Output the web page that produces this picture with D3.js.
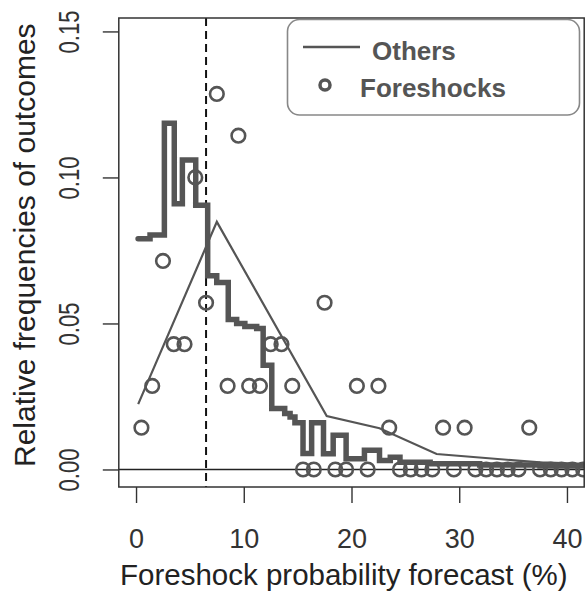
<!DOCTYPE html>
<html>
<head>
<meta charset="utf-8">
<script src="https://cdn.jsdelivr.net/npm/d3@7"></script>
<style>
body { margin: 0; background: #fff; }
text { font-family: "Liberation Sans", Arial, sans-serif; }
</style>
</head>
<body>
<div id="chart"></div>
<script>
// thick step line (all forecasts)
var stepX = [0.19, 1.3, 2.63, 3.55, 4.3, 5.54, 6.65, 7.49, 8.56, 9.34, 10.1, 11.2, 11.8, 12.6,
    13.8, 14.3, 14.75, 15.5, 16.3, 17.4, 18.3, 19.5, 21.2, 22.6, 23.6, 24.5, 27.3, 31.9, 37.5, 42];
var stepY = [0.079, 0.0803, 0.1186, 0.091, 0.106, 0.0905, 0.0663, 0.064, 0.0514, 0.05, 0.049, 0.0483, 0.0357, 0.0209,
    0.0192, 0.018, 0.016, 0.0055, 0.016, 0.0054, 0.0117, 0.0037, 0.0066, 0.0031, 0.0042, 0.0025, 0.002, 0.0015, 0.0012, 0.0012];

// thin line "Others"
var othersX = [0.2, 7.5, 17.7, 22.6, 27.9, 37.5, 42];
var othersY = [0.0224, 0.0848, 0.0183, 0.0141, 0.0053, 0.0024, 0.0019];

// circles "Foreshocks"
var foreX = [0.5, 1.5, 2.5, 3.5, 4.5, 5.5, 6.5, 7.5, 8.5, 9.5, 10.5, 11.5, 12.5, 13.5, 14.5, 15.5, 16.5, 17.5, 18.5, 19.5,
    20.5, 21.5, 22.5, 23.5, 24.5, 25.5, 26.5, 27.5, 28.5, 29.5, 30.5, 31.5, 32.5, 33.5, 34.5, 35.5, 36.5, 37.5, 38.5, 39.5, 40.5, 41.5];
var foreY = [0.0143, 0.0286, 0.0714, 0.0429, 0.0429, 0.1, 0.0571, 0.1286, 0.0286, 0.1143, 0.0286, 0.0286, 0.0429, 0.0429, 0.0286, 0, 0, 0.0571, 0, 0,
    0.0286, 0, 0.0286, 0.0143, 0, 0, 0, 0, 0.0143, 0, 0.0143, 0, 0, 0, 0, 0, 0.0143, 0, 0, 0, 0, 0];

var threshold = 6.5;
var xTicks = [0, 10, 20, 30, 40];
var yTicks = [0, 0.05, 0.10, 0.15];
var legendLabels = ["Others", "Foreshocks"];

var plotLeft = 118.8, plotRight = 584.2, plotTop = 18, plotBottom = 487;
var grey = "#555";

var svg = d3.select("#chart")
    .append("svg")
    .attr("width", 588)
    .attr("height", 591);

var x = d3.scaleLinear().domain([-1.6, 41.6]).range([plotLeft, plotRight]);
var y = d3.scaleLinear().domain([-0.006, 0.1546]).range([plotBottom, plotTop]);

svg.append("clipPath")
    .attr("id", "clip")
    .append("rect")
    .attr("x", plotLeft)
    .attr("y", plotTop)
    .attr("width", plotRight - plotLeft)
    .attr("height", plotBottom - plotTop);

var plot = svg.append("g").attr("clip-path", "url(#clip)");

// zero line
plot.append("line")
    .attr("x1", plotLeft).attr("x2", plotRight)
    .attr("y1", y(0)).attr("y2", y(0))
    .attr("stroke", "#222")
    .attr("stroke-width", 1.3);

// threshold
plot.append("line")
    .attr("x1", x(threshold)).attr("x2", x(threshold))
    .attr("y1", plotTop).attr("y2", plotBottom)
    .attr("stroke", "#111")
    .attr("stroke-width", 2)
    .attr("stroke-dasharray", "8,5");

var stepLine = d3.line()
    .x(function(d, i){return x(stepX[i])})
    .y(function(d){return y(d)})
    .curve(d3.curveStepAfter);

plot.append("path")
    .attr("d", stepLine(stepY))
    .attr("fill", "none")
    .attr("stroke", grey)
    .attr("stroke-width", 5.5)
    .attr("stroke-linejoin", "miter")
    .attr("stroke-linecap", "round");

var othersLine = d3.line()
    .x(function(d, i){return x(othersX[i])})
    .y(function(d){return y(d)});

plot.append("path")
    .attr("d", othersLine(othersY))
    .attr("fill", "none")
    .attr("stroke", grey)
    .attr("stroke-width", 2.2);

plot.selectAll("circle.fore")
    .data(foreY)
    .enter()
    .append("circle")
    .attr("class", "fore")
    .attr("cx", function(d, i){return x(foreX[i])})
    .attr("cy", function(d){return y(d)})
    .attr("r", 6.8)
    .attr("fill", "none")
    .attr("stroke", grey)
    .attr("stroke-width", 2.6);

// box
svg.append("rect")
    .attr("x", plotLeft).attr("y", plotTop)
    .attr("width", plotRight - plotLeft).attr("height", plotBottom - plotTop)
    .attr("fill", "none")
    .attr("stroke", "#333")
    .attr("stroke-width", 1.5);

// axes
var xAxis = svg.append("g")
    .attr("transform", "translate(0," + plotBottom + ")")
    .call(d3.axisBottom(x).tickValues(xTicks).tickSize(16).tickSizeOuter(0));
xAxis.select(".domain").remove();
xAxis.selectAll("line").attr("stroke", "#333").attr("stroke-width", 1.4);
xAxis.selectAll("text")
    .attr("y", 61).attr("dy", 0)
    .attr("fill", "#333")
    .style("font-size", "27px");

var yAxis = svg.append("g")
    .attr("transform", "translate(" + plotLeft + ",0)")
    .call(d3.axisLeft(y).tickValues(yTicks).tickFormat(d3.format(".2f")).tickSize(16).tickSizeOuter(0));
yAxis.select(".domain").remove();
yAxis.selectAll("line").attr("stroke", "#333").attr("stroke-width", 1.4);
yAxis.selectAll("text")
    .attr("x", 0).attr("y", 0).attr("dy", 0)
    .attr("text-anchor", "middle")
    .attr("transform", "translate(-40,0) rotate(-90)")
    .attr("fill", "#333")
    .attr("textLength", 43)
    .attr("lengthAdjust", "spacingAndGlyphs")
    .style("font-size", "29px");

// axis titles
svg.append("text")
    .attr("x", 120).attr("y", 585)
    .attr("fill", "#222")
    .style("font-size", "29.5px")
    .text("Foreshock probability forecast (%)");

svg.append("text")
    .attr("transform", "translate(35,467) rotate(-90)")
    .attr("fill", "#222")
    .style("font-size", "30px")
    .text("Relative frequencies of outcomes");

// legend
var legend = svg.append("g");
legend.append("rect")
    .attr("x", 287.5).attr("y", 19.5)
    .attr("width", 292).attr("height", 95.5)
    .attr("rx", 12).attr("ry", 12)
    .attr("fill", "#fff")
    .attr("stroke", "#888")
    .attr("stroke-width", 1.6);
legend.append("line")
    .attr("x1", 303).attr("x2", 360)
    .attr("y1", 47).attr("y2", 47)
    .attr("stroke", grey)
    .attr("stroke-width", 2.5);
legend.append("circle")
    .attr("cx", 325).attr("cy", 85)
    .attr("r", 5)
    .attr("fill", "none")
    .attr("stroke", grey)
    .attr("stroke-width", 3.5);
legend.selectAll("text.lab")
    .data(legendLabels)
    .enter()
    .append("text")
    .attr("class", "lab")
    .attr("x", function(d, i){return i == 0 ? 372 : 360})
    .attr("y", function(d, i){return i == 0 ? 60 : 97})
    .attr("fill", grey)
    .style("font-size", "26px")
    .style("font-weight", "bold")
    .text(function(d){return d});
</script>
</body>
</html>
